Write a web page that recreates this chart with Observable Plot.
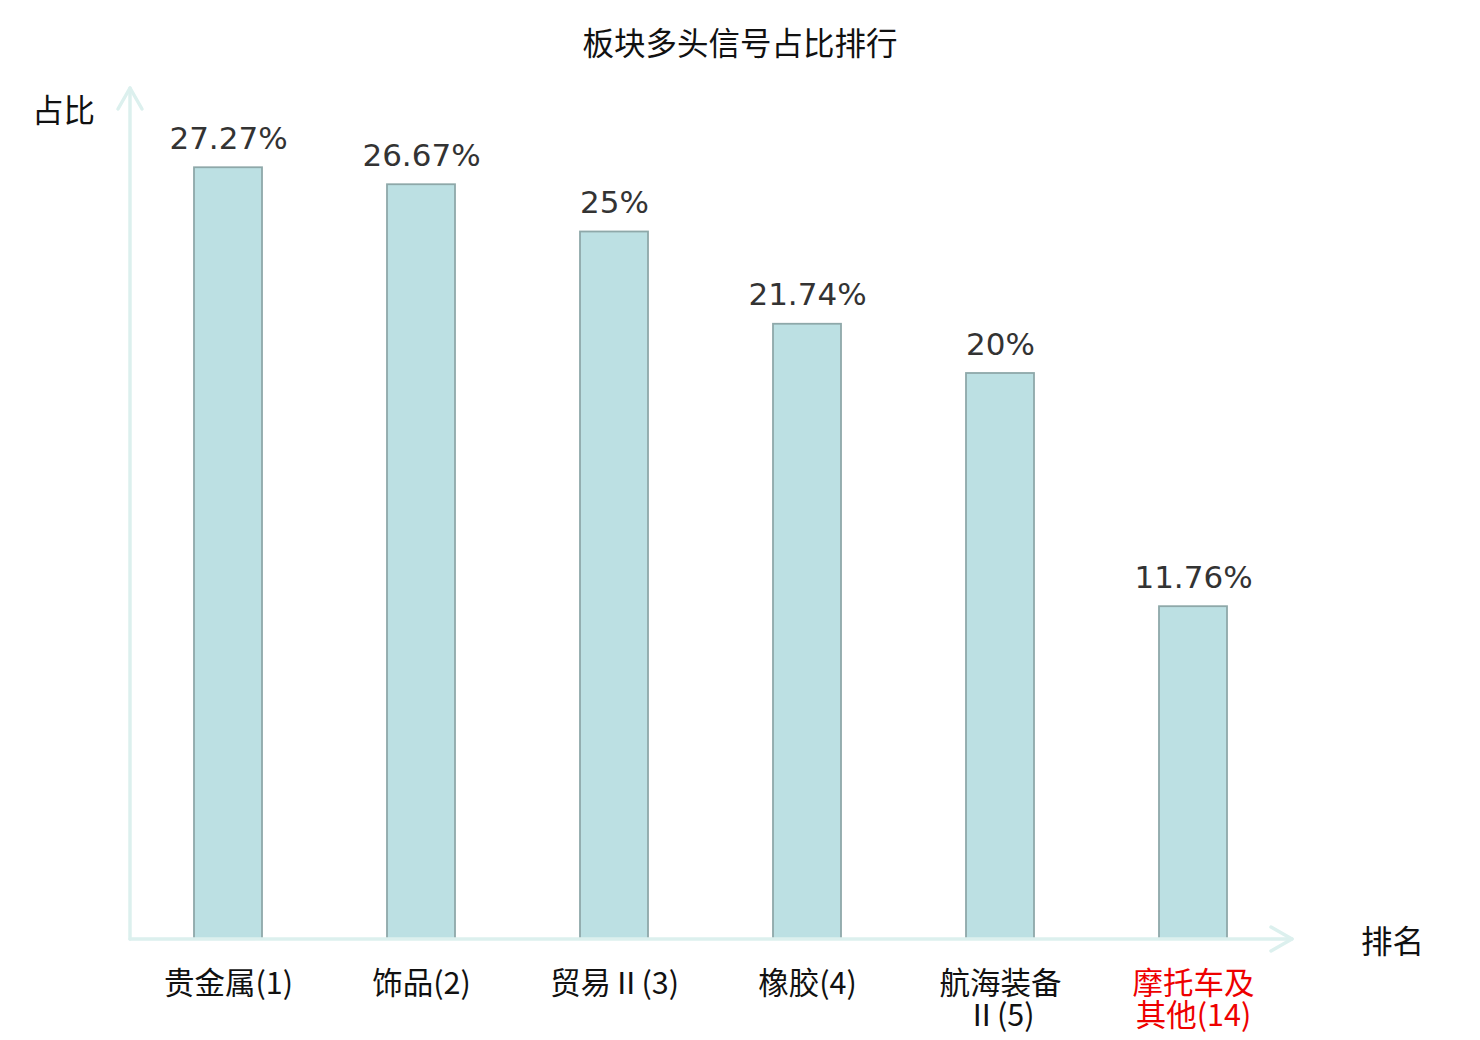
<!DOCTYPE html>
<html>
<head>
<meta charset="utf-8">
<script src="https://cdn.jsdelivr.net/npm/d3@7"></script>
<script src="https://cdn.jsdelivr.net/npm/@observablehq/plot@0.6"></script>
<style>
  html, body { margin: 0; padding: 0; background: #fff; }
  #title { width: 1480px; height: 70px; line-height: 82px; text-align: center;
           font-family: "Noto Sans CJK SC", "DejaVu Sans", sans-serif; font-size: 31.5px; color: #111; }
  svg { display: block; }
</style>
</head>
<body>
<div id="title">板块多头信号占比排行</div>
<div id="chart"></div>
<script>
const categories = ["贵金属(1)", "饰品(2)", "贸易Ⅱ(3)", "橡胶(4)", "航海装备\nⅡ(5)", "摩托车及\n其他(14)"];
const values = [27.27, 26.67, 25, 21.74, 20, 11.76];
const highlight = [false, false, false, false, false, true];
const yAxisName = "占比";
const xAxisName = "排名";

const data = categories.map((c, i) => ({ cat: c, value: values[i], hi: highlight[i] }));

const axisColor = "#dcf0ee";

const axesMark = (index, scales, channels, dimensions) => {
  const { width, height, marginLeft, marginRight, marginTop, marginBottom } = dimensions;
  const x0 = marginLeft, x1 = width - marginRight + 2;
  const y0 = height - marginBottom, y1 = marginTop - 2;
  const g = d3.create("svg:g")
    .attr("fill", "none").attr("stroke", axisColor).attr("stroke-width", 3.5)
    .attr("stroke-linecap", "round").attr("stroke-linejoin", "round");
  g.append("path").attr("d", `M${x0},${y0}L${x1},${y0}`);
  g.append("path").attr("d", `M${x1 - 21},${y0 - 12}L${x1},${y0}L${x1 - 21},${y0 + 12}`);
  g.append("path").attr("d", `M${x0},${y0}L${x0},${y1}`);
  g.append("path").attr("d", `M${x0 - 12},${y1 + 21}L${x0},${y1}L${x0 + 12},${y1 + 21}`);
  return g.node();
};

const chart = Plot.plot({
  width: 1480,
  height: 970,
  marginLeft: 130,
  marginRight: 190,
  marginTop: 20,
  marginBottom: 101,
  x: { domain: categories, paddingInner: 0.648, paddingOuter: 0.324, axis: null },
  y: { domain: [0, 30], axis: null },
  style: { fontFamily: "'DejaVu Sans', 'Noto Sans CJK SC', sans-serif", background: "#fff", overflow: "visible" },
  marks: [
    Plot.barY(data, { x: "cat", y: "value", fill: "#bce0e3", stroke: "#8ea8a9", strokeWidth: 1.8 }),
    axesMark,
    Plot.text(data, { x: "cat", y: "value", text: d => `${d.value}%`, lineAnchor: "bottom", dy: -19,
      fontSize: 31, fill: "#333", fontFamily: "'DejaVu Sans', sans-serif" }),
    Plot.text(data, { x: "cat", frameAnchor: "bottom", text: "cat", lineAnchor: "top", dy: 32,
      fontSize: 30.5, lineHeight: 1.05, fill: d => d.hi ? "#ee0000" : "#111",
      fontFamily: "'Noto Sans CJK SC', sans-serif" }),
    Plot.text([yAxisName], { frameAnchor: "top-left", text: d => d, dx: -67, dy: 21, textAnchor: "middle",
      lineAnchor: "middle", fontSize: 31.5, fill: "#111", fontFamily: "'Noto Sans CJK SC', sans-serif" }),
    Plot.text([xAxisName], { frameAnchor: "bottom-right", text: d => d, dx: 102, dy: 3, textAnchor: "middle",
      lineAnchor: "middle", fontSize: 31.5, fill: "#111", fontFamily: "'Noto Sans CJK SC', sans-serif" })
  ]
});
document.getElementById("chart").appendChild(chart);
</script>
</body>
</html>
